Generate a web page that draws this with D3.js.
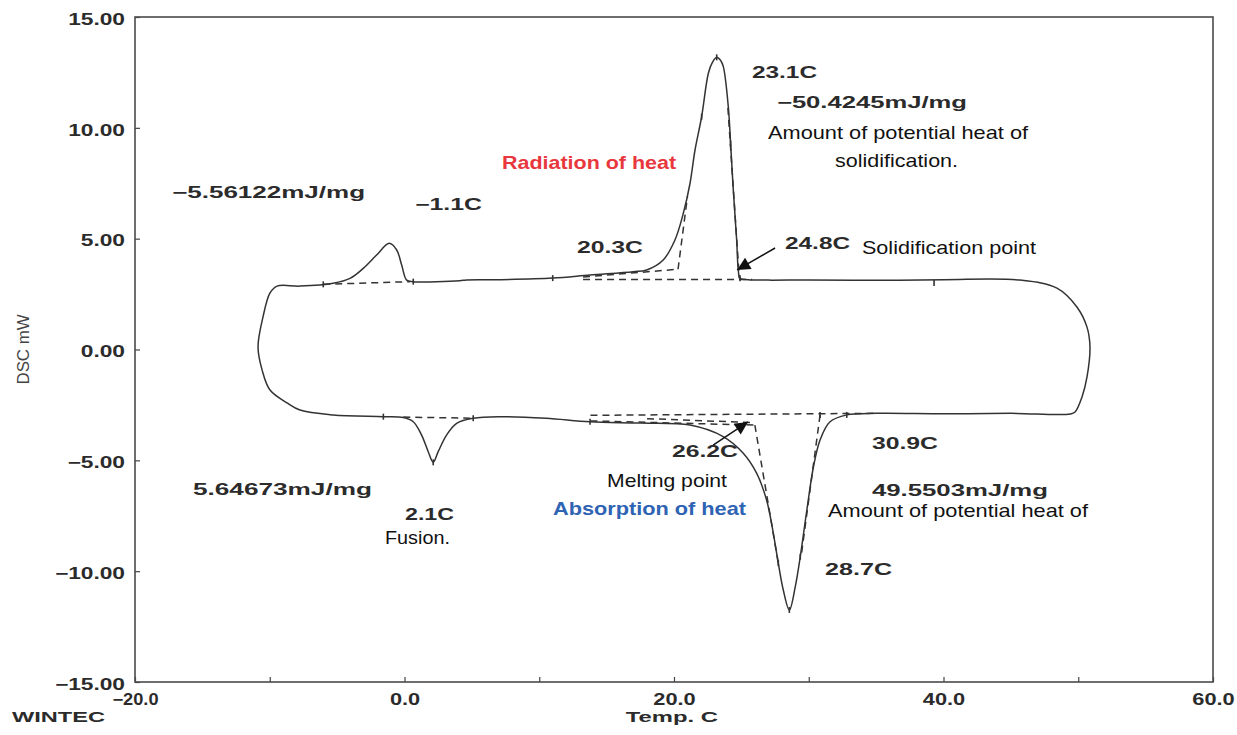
<!DOCTYPE html>
<html>
<head>
<meta charset="utf-8">
<script src="https://cdn.jsdelivr.net/npm/d3@7"></script>
<style>
  body { margin: 0; background: #fff; }
  svg { display: block; }
  .tick text, .mach { font-family: "Liberation Sans", Arial, sans-serif; font-weight: bold; font-size: 16px; fill: #2b2b2b; }
  .reg { font-family: "Liberation Sans", Arial, sans-serif; font-size: 18.5px; fill: #111; }
</style>
</head>
<body>
<div id="chart"></div>
<script>
// DSC curve, cooling branch (right to left) - temp C / DSC mW
const coolTemp = [50.87, 50.65, 49.9, 48.42, 45.68, 40.0, 35.0, 30.0, 27.0, 25.5, 24.9, 24.77, 24.65, 24.4, 24.2, 24.03, 23.66, 23.45, 23.17, 22.85, 22.55, 22.05, 21.56, 21.19, 20.69, 20.07, 19.2, 17.97, 16.96, 13.77, 11.0, 7.1, 4.6, 4.1, 0.65, 0.16, -0.21, -0.58, -1.13, -2.07, -3.06, -4.04, -5.3, -7.76, -9.46, -9.98, -10.5, -10.87];
const coolDsc  = [0.11, 1.01, 1.92, 2.77, 3.13, 3.15, 3.12, 3.14, 3.13, 3.15, 3.21, 3.59, 4.94, 7.2, 9.3, 10.95, 12.76, 13.05, 13.18, 12.95, 12.46, 10.5, 9.0, 7.5, 6.14, 4.94, 4.04, 3.59, 3.51, 3.36, 3.22, 3.15, 3.14, 3.1, 3.06, 3.13, 3.81, 4.49, 4.79, 4.26, 3.66, 3.21, 2.99, 2.86, 2.86, 2.55, 1.47, 0.11];

// heating branch (left to right)
const heatTemp = [-10.87, -10.57, -9.98, -8.72, -7.76, -5.3, -1.57, -0.09, 0.65, 1.27, 1.76, 2.13, 2.5, 3.12, 3.87, 5.1, 7.1, 10.5, 13.77, 17.5, 21.19, 23.65, 25.14, 26.13, 26.87, 27.37, 27.74, 28.11, 28.56, 29.0, 29.37, 29.86, 30.35, 30.84, 31.58, 32.82, 35.04, 40.0, 45.0, 49.4, 49.76, 50.28, 50.65, 50.87];
const heatDsc  = [0.11, -0.92, -1.83, -2.41, -2.73, -2.95, -3.03, -3.07, -3.26, -3.86, -4.61, -5.09, -4.61, -3.86, -3.33, -3.1, -3.03, -3.1, -3.26, -3.32, -3.41, -3.93, -4.68, -5.58, -6.79, -8.29, -9.64, -10.85, -11.75, -10.7, -9.35, -7.24, -5.29, -4.08, -3.26, -2.95, -2.88, -2.9, -2.88, -2.91, -2.82, -2.14, -1.24, 0.11];

// baseline / onset construction lines [[t1, d1], [t2, d2]]
const dashLines = [
  [[-6.03, 2.94], [0.4, 3.06]],
  [[13.25, 3.16], [25.8, 3.16]],
  [[13.25, 3.27], [20.3, 3.62]],
  [[20.3, 3.62], [21.0, 6.9]],
  [[24.0, 10.9], [24.85, 3.2]],
  [[-0.09, -3.05], [5.1, -3.1]],
  [[13.8, -2.97], [35.0, -2.88]],
  [[13.8, -3.22], [26.0, -3.41]],
  [[18.0, -3.12], [26.0, -3.3]],
  [[26.0, -3.41], [27.74, -9.64]],
  [[30.84, -2.95], [29.47, -9.18]]
];

// small tick marks the instrument puts on the trace
const markTemp = [-6.03, 0.65, 11.0, 22.05, 24.2, 24.9, 23.17, -1.57, 5.1, 13.77, 27.74, 29.37, 30.84, 32.82, 28.56, 2.13, 39.3];
const markDsc  = [2.94, 3.06, 3.22, 10.5, 9.3, 3.21, 13.18, -3.03, -3.1, -3.26, -9.64, -9.35, -2.95, -2.95, -11.75, -5.09, 3.0];

const xTicks = [-20, -10, 0, 10, 20, 30, 40, 50, 60];
const yTicks = [-15, -10, -5, 0, 5, 10, 15];

// arrows [from, to]
const arrows = [
  [[27.5, 4.58], [24.68, 3.59]],
  [[22.9, -4.31], [25.49, -3.27]]
];

const W = 1237, H = 735;
const margin = {top: 17, right: 24, bottom: 53, left: 135};
const width = W - margin.left - margin.right;
const height = H - margin.top - margin.bottom;

const svg = d3.select("#chart").append("svg")
    .attr("width", W)
    .attr("height", H);

const x = d3.scaleLinear().domain([-20, 60]).range([margin.left, margin.left + width]);
const y = d3.scaleLinear().domain([-15, 15]).range([margin.top + height, margin.top]);

// stretch helper - the scan is wider than normal fonts
function stretch(sel, k) {
    sel.each(function() {
        let w = this.getComputedTextLength();
        if (w > 0) d3.select(this).attr("textLength", w * k).attr("lengthAdjust", "spacingAndGlyphs");
    });
}

// axes
let yAxis = svg.append("g")
    .attr("transform", "translate(" + margin.left + ",0)")
    .call(d3.axisLeft(y).tickValues(yTicks).tickSizeInner(-5).tickSizeOuter(0).tickPadding(10).tickFormat(d3.format(".2f")));
yAxis.select(".domain").remove();
yAxis.selectAll("line").attr("stroke", "#444").attr("stroke-width", 1.2);
yAxis.selectAll("text").attr("dy", "0.45em");
stretch(yAxis.selectAll("text"), 1.42);

let xAxis = svg.append("g")
    .attr("transform", "translate(0," + (margin.top + height) + ")")
    .call(d3.axisBottom(x).tickValues(xTicks).tickSizeInner(-5).tickSizeOuter(0).tickPadding(12)
        .tickFormat(d => d % 20 === 0 ? d3.format(".1f")(d) : ""));
xAxis.select(".domain").remove();
xAxis.selectAll("line").attr("stroke", "#444").attr("stroke-width", 1.2);
stretch(xAxis.selectAll("text"), 1.36);
xAxis.selectAll("text").filter(d => d < 0).attr("textLength", 46);

// frame
svg.append("rect")
    .attr("x", margin.left).attr("y", margin.top)
    .attr("width", width).attr("height", height)
    .attr("fill", "none").attr("stroke", "#4a4a4a").attr("stroke-width", 1.6);

// loop
let loop = coolTemp.map((t, i) => [t, coolDsc[i]])
    .concat(heatTemp.slice(1, -1).map((t, i) => [t, heatDsc[i + 1]]));

let line = d3.line()
    .x(d => x(d[0]))
    .y(d => y(d[1]))
    .curve(d3.curveCatmullRomClosed.alpha(0.5));

svg.append("path")
    .datum(loop)
    .attr("d", line)
    .attr("fill", "none")
    .attr("stroke", "#333")
    .attr("stroke-width", 1.5);

svg.selectAll(".dash").data(dashLines).enter().append("line")
    .attr("class", "dash")
    .attr("x1", d => x(d[0][0])).attr("y1", d => y(d[0][1]))
    .attr("x2", d => x(d[1][0])).attr("y2", d => y(d[1][1]))
    .attr("stroke", "#333").attr("stroke-width", 1.5)
    .attr("stroke-dasharray", "7,5");

svg.selectAll(".mark").data(markTemp).enter().append("line")
    .attr("class", "mark")
    .attr("x1", d => x(d)).attr("x2", d => x(d))
    .attr("y1", (d, i) => y(markDsc[i]) - 3).attr("y2", (d, i) => y(markDsc[i]) + 3)
    .attr("stroke", "#333").attr("stroke-width", 1.6);

// arrow heads
svg.append("defs").append("marker")
    .attr("id", "head")
    .attr("viewBox", "0 0 10 10")
    .attr("refX", 10).attr("refY", 5)
    .attr("markerUnits", "userSpaceOnUse")
    .attr("markerWidth", 17).attr("markerHeight", 13)
    .attr("orient", "auto")
    .append("path").attr("d", "M0,0L10,5L0,10Z").attr("fill", "#111");

svg.selectAll(".arrow").data(arrows).enter().append("line")
    .attr("class", "arrow")
    .attr("x1", d => x(d[0][0])).attr("y1", d => y(d[0][1]))
    .attr("x2", d => x(d[1][0])).attr("y2", d => y(d[1][1]))
    .attr("stroke", "#111").attr("stroke-width", 1.5)
    .attr("marker-end", "url(#head)");

// annotations: text, temp, dsc (left / middle), width in px, kind
const notes = [
    ["\u22125.56122mJ/mg", -17.25, 7.10, 193, "mach"],
    ["\u22121.1C", 0.78, 6.56, 67, "mach"],
    ["20.3C", 12.80, 4.62, 66, "mach"],
    ["23.1C", 25.79, 12.52, 65, "mach"],
    ["\u221250.4245mJ/mg", 27.64, 11.16, 190, "mach"],
    ["24.8C", 28.24, 4.80, 65, "mach"],
    ["26.2C", 19.85, -4.58, 66, "mach"],
    ["30.9C", 34.69, -4.22, 66, "mach"],
    ["49.5503mJ/mg", 34.69, -6.34, 176, "mach"],
    ["28.7C", 31.21, -9.90, 67, "mach"],
    ["5.64673mJ/mg", -15.70, -6.29, 179, "mach"],
    ["2.1C", 0.04, -7.42, 49, "mach"],
    ["Radiation of heat", 7.24, 8.46, 174, "red"],
    ["Amount of potential heat of", 26.98, 9.81, 260, "reg"],
    ["solidification.", 31.95, 8.55, 123, "reg"],
    ["Solidification point", 33.95, 4.62, 174, "reg"],
    ["Melting point", 15.03, -5.89, 120, "reg"],
    ["Absorption of heat", 11.02, -7.15, 193, "blue"],
    ["Amount of potential heat of", 31.43, -7.24, 260, "reg"],
    ["Fusion.", -1.45, -8.46, 65, "reg"]
];

svg.selectAll(".note").data(notes).enter().append("text")
    .attr("class", d => d[4] === "mach" ? "mach" : "reg")
    .attr("x", d => x(d[1]))
    .attr("y", d => y(d[2]))
    .attr("dy", "0.36em")
    .attr("textLength", d => d[3])
    .attr("lengthAdjust", "spacingAndGlyphs")
    .style("font-weight", d => d[4] === "red" || d[4] === "blue" || d[4] === "mach" ? "bold" : null)
    .style("fill", d => d[4] === "red" ? "#e8383d" : d[4] === "blue" ? "#2f63b3" : null)
    .text(d => d[0]);

// axis titles
svg.append("text")
    .attr("class", "mach")
    .attr("x", margin.left + width * 0.498)
    .attr("y", H - 13)
    .attr("text-anchor", "middle")
    .attr("textLength", 92).attr("lengthAdjust", "spacingAndGlyphs")
    .style("font-size", "15px")
    .text("Temp. C");

svg.append("text")
    .attr("class", "mach")
    .attr("x", 12)
    .attr("y", H - 13)
    .attr("textLength", 93).attr("lengthAdjust", "spacingAndGlyphs")
    .style("font-size", "15px")
    .text("WINTEC");

svg.append("text")
    .attr("class", "mach")
    .attr("transform", "translate(29," + y(0) + ") rotate(-90)")
    .attr("text-anchor", "middle")
    .attr("textLength", 70).attr("lengthAdjust", "spacingAndGlyphs")
    .style("font-size", "16px").style("font-weight", "normal").style("fill", "#444")
    .text("DSC mW");
</script>
</body>
</html>
